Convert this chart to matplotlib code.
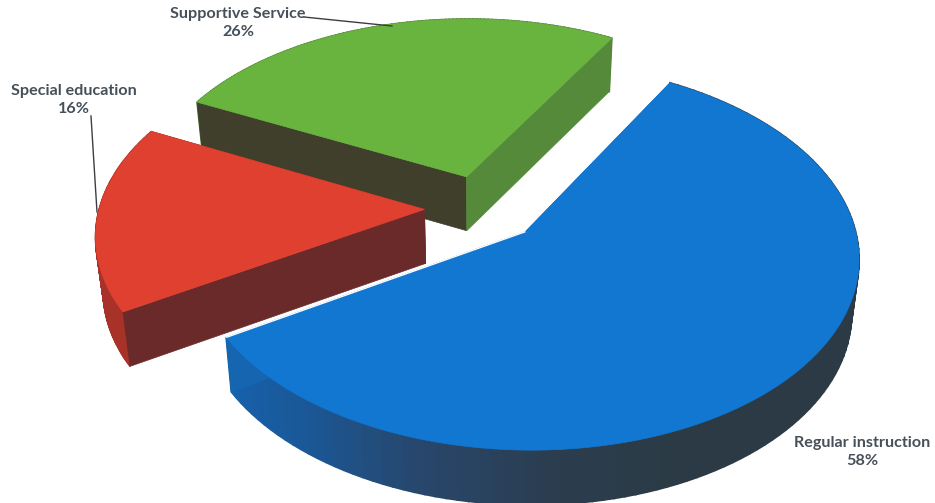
# -*- coding: utf-8 -*-

# plot_budget_pie.py

import matplotlib.pyplot as plt
from matplotlib.colors import to_rgb
from matplotlib.patches import Polygon
import numpy as np

categories = ["Regular instruction", "Special education", "Supportive Service"]
percents = [58, 16, 26]

top_colors = ["#1277d1", "#e0402f", "#69b33f"]
rim_colors = [["#2b3a44"] * 7 + ["#2b3d4e", "#28466a", "#1b5795", "#1562ad"],
              ["#a83228", "#a83228"],
              ["#4e7f38", "#4e7f38"]]
start_cut_colors = ["#1565b0", "#6a2a2a", "#3f3f2c"]
end_cut_colors = ["#1565b0", "#6a2a2a", "#568a3b"]

label_pos = [(862, 452), (74, 100), (238, 23)]
leaders = [None, [(91, 116), (97, 212)], [(304, 17), (392, 26)]]

# camera for the tilted disc
X0, Y0 = 483.0, 208.0
R, RT, K = 325.0, 184.8, 0.125
DEPTH = 54.0
BOTTOM_SHRINK = 0.98
EXPLODE = 0.18
START = 30.0


def project(x, y):
    den = 1 + K * y
    return X0 + R * x / den, Y0 - RT * y / den, den


def lerp_color(stops, f):
    stops = np.array([to_rgb(c) for c in stops])
    pos = f * (len(stops) - 1)
    i = min(int(pos), len(stops) - 2)
    return stops[i] + (stops[i + 1] - stops[i]) * (pos - i)


def draw_slice(ax, a0, a1, top, rim, cut0, cut1):
    mid = np.radians((a0 + a1) / 2)
    ox, oy = EXPLODE * np.sin(mid), EXPLODE * np.cos(mid)
    t = np.radians(np.linspace(a0, a1, 120))
    px, py, den = project(ox + np.sin(t), oy + np.cos(t))
    ax_, ay_, aden = project(ox, oy)
    # lower edge of the slab, pulled slightly toward the middle
    qx = X0 + (px - X0) * BOTTOM_SHRINK
    qy = py + DEPTH / den ** 0.1
    bx = X0 + (ax_ - X0) * BOTTOM_SHRINK
    by = ay_ + DEPTH / aden ** 0.1

    # outer rim, one small quad per step so the shade can change along it
    for i in range(len(t) - 1):
        c = lerp_color(rim, i / (len(t) - 2))
        ax.add_patch(Polygon([(px[i], py[i]), (px[i + 1], py[i + 1]),
                              (qx[i + 1], qy[i + 1]), (qx[i], qy[i])],
                             closed=True, fc=c, ec=c, lw=1.2))
    # the two cut faces
    for k, c in ((0, cut0), (-1, cut1)):
        ax.add_patch(Polygon([(ax_, ay_), (px[k], py[k]),
                              (qx[k], qy[k]), (bx, by)],
                             closed=True, fc=c, ec=c, lw=0.5))
    # top face
    pts = [(ax_, ay_)] + list(zip(px, py))
    ax.add_patch(Polygon(pts, closed=True, fc=top, ec=top, lw=0.5))
    return (ax_, ay_), (px, py)


fig = plt.figure(figsize=(9.35, 5.03), dpi=100)
ax = fig.add_axes([0, 0, 1, 1])
ax.set_xlim(0, 935)
ax.set_ylim(503, 0)
ax.axis("off")

angles = START + np.cumsum([0] + percents) * 3.6
for i in [2, 1, 0]:
    apex, arc = draw_slice(ax, angles[i], angles[i + 1], top_colors[i],
                           rim_colors[i], start_cut_colors[i], end_cut_colors[i])
    if i == 0:
        # thin gap where the blue slice runs along the red one
        ax.plot([apex[0], arc[0][-1]], [apex[1], arc[1][-1]],
                color="white", lw=1.0, solid_capstyle="butt")

for name, pct, pos, line in zip(categories, percents, label_pos, leaders):
    if line is not None:
        ax.plot(*zip(*line), color="#3a3f44", lw=1.0)
    ax.text(pos[0], pos[1], "%s\n%d%%" % (name, pct), ha="center", va="center",
            fontsize=11.6, family="Lato", fontweight="bold", color="#46505a",
            linespacing=1.42)

fig.savefig("out.png", dpi=100)
